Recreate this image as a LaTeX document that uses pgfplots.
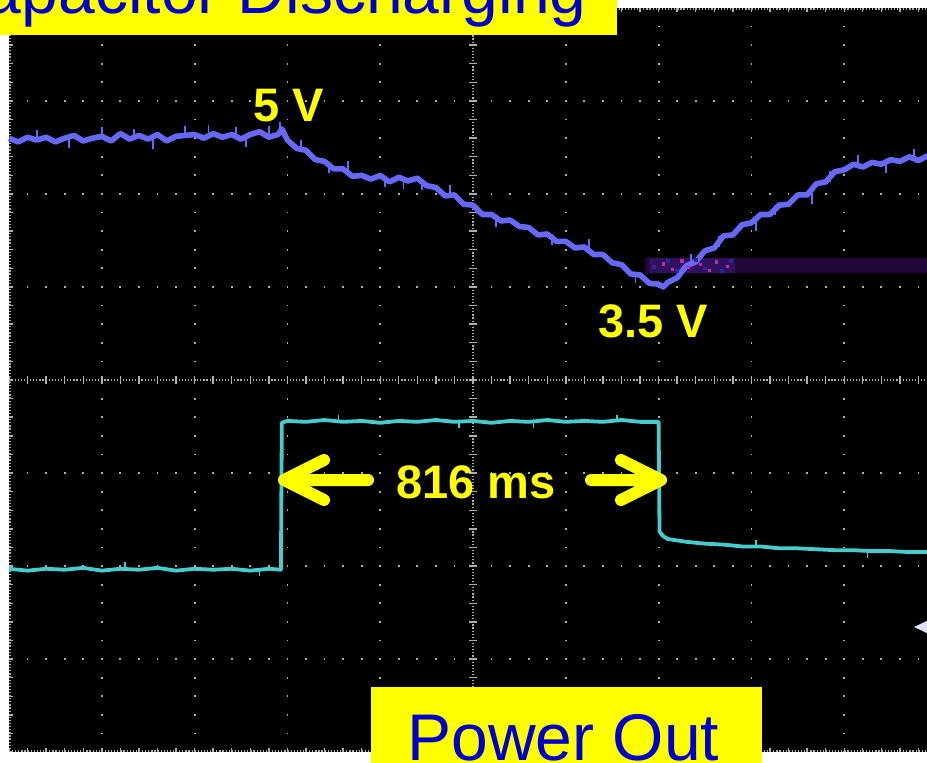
\documentclass[border=0pt]{standalone}
\usepackage{pgfplots}
\pgfplotsset{compat=1.18}
\usepackage{fontspec}
\setmainfont{Liberation Sans}
\definecolor{scopeblue}{RGB}{104,104,246}
\definecolor{scopecyan}{RGB}{70,204,204}
\definecolor{gridgray}{RGB}{175,175,175}
\definecolor{labelyellow}{RGB}{255,255,0}
\definecolor{titleblue}{RGB}{0,0,204}
\definecolor{ghost}{RGB}{32,6,54}
\definecolor{ghostb}{RGB}{50,16,96}
\definecolor{speckm}{RGB}{190,40,170}
\definecolor{specka}{RGB}{40,40,150}

\pgfplotstableread{
x y
0.0 2.60
0.1 2.56
0.2 2.61
0.3 2.58
0.4 2.61
0.5 2.56
0.6 2.60
0.7 2.63
0.8 2.57
0.9 2.60
1.0 2.62
1.1 2.57
1.2 2.65
1.3 2.59
1.4 2.63
1.5 2.59
1.6 2.64
1.7 2.57
1.8 2.62
1.9 2.63
2.0 2.64
2.1 2.60
2.2 2.65
2.3 2.61
2.4 2.64
2.5 2.59
2.6 2.64
2.7 2.67
2.8 2.61
2.9 2.64
2.94 2.70
3.0 2.58
3.1 2.49
3.2 2.47
3.3 2.37
3.4 2.35
3.5 2.27
3.6 2.27
3.7 2.19
3.8 2.20
3.9 2.16
4.0 2.20
4.1 2.13
4.2 2.18
4.3 2.14
4.4 2.17
4.5 2.09
4.6 2.07
4.7 1.98
4.8 1.99
4.9 1.89
5.0 1.88
5.1 1.78
5.2 1.78
5.3 1.71
5.4 1.72
5.5 1.65
5.6 1.64
5.7 1.56
5.8 1.57
5.9 1.49
6.0 1.49
6.1 1.42
6.2 1.43
6.3 1.35
6.4 1.35
6.5 1.26
6.6 1.24
6.7 1.14
6.8 1.13
6.9 1.04
7.0 1.03
7.05 1.00
7.1 1.05
7.2 1.10
7.3 1.23
7.4 1.27
7.5 1.39
7.6 1.42
7.7 1.55
7.8 1.56
7.9 1.67
8.0 1.69
8.1 1.78
8.2 1.78
8.3 1.88
8.4 1.89
8.5 1.99
8.6 1.99
8.7 2.11
8.8 2.13
8.9 2.24
9.0 2.26
9.1 2.32
9.2 2.29
9.3 2.34
9.4 2.32
9.5 2.37
9.6 2.35
9.7 2.40
9.8 2.36
9.9 2.41
10.0 2.39
}\capvolt

\pgfplotstableread{
x y
0.3 2.63
0.65 2.55
1.0 2.66
1.35 2.64
1.55 2.54
1.9 2.67
2.15 2.69
2.45 2.66
2.55 2.56
2.8 2.68
2.92 2.72
3.15 2.53
3.45 2.28
3.65 2.30
4.05 2.13
4.25 2.11
4.45 2.10
4.75 2.04
5.25 1.70
5.85 1.51
6.25 1.46
6.75 1.10
7.35 1.30
7.65 1.49
8.05 1.66
8.25 1.83
8.65 1.95
8.85 2.19
9.15 2.36
9.45 2.28
9.75 2.43
}\capspikes

\pgfplotstableread{
x y
0.0 -2.03
0.2 -2.05
0.4 -2.03
0.6 -2.04
0.8 -2.02
1.0 -2.05
1.2 -2.03
1.4 -2.04
1.6 -2.02
1.8 -2.05
2.0 -2.03
2.2 -2.04
2.4 -2.03
2.6 -2.05
2.8 -2.03
2.93 -2.04
2.94 -0.46
3.0 -0.44
3.2 -0.45
3.4 -0.43
3.6 -0.45
3.8 -0.44
4.0 -0.46
4.2 -0.44
4.4 -0.45
4.6 -0.43
4.8 -0.45
5.0 -0.44
5.2 -0.46
5.4 -0.44
5.6 -0.45
5.8 -0.43
6.0 -0.45
6.2 -0.44
6.4 -0.45
6.6 -0.43
6.8 -0.45
7.0 -0.45
7.01 -1.63
7.05 -1.68
7.1 -1.71
7.3 -1.74
7.5 -1.76
7.7 -1.77
7.9 -1.79
8.1 -1.79
8.3 -1.81
8.5 -1.81
8.7 -1.82
8.9 -1.83
9.1 -1.83
9.3 -1.84
9.5 -1.84
9.7 -1.85
9.9 -1.85
10.0 -1.86
}\powerout

\pgfplotstableread{
x y
1.25 -2.00
2.7 -2.07
3.55 -0.41
4.85 -0.48
5.65 -0.48
6.55 -0.41
8.05 -1.76
9.25 -1.87
}\powerspikes

\begin{document}
\begin{tikzpicture}
\path[use as bounding box] (-4.5pt,-5pt) rectangle (459pt,376pt);
\clip (-4.5pt,-5pt) rectangle (459pt,376pt);
\fill[white] (-10pt,-10pt) rectangle (470pt,380pt);
\fill[black] (0pt,0pt) rectangle (464pt,372pt);
% ---- graticule ----
\foreach \k in {1,2,3,4,6,7,8,9}{
  \draw[gridgray, line width=0.9pt, dash pattern=on 0.9pt off 8.4pt, dash phase=0.45pt]
    ({46.4pt*\k},0pt) -- ({46.4pt*\k},372pt);
}
\foreach \j in {1,2,3,5,6,7}{
  \draw[gridgray, line width=0.9pt, dash pattern=on 0.9pt off 8.38pt, dash phase=0.45pt]
    (0pt,{46.5pt*\j}) -- (464pt,{46.5pt*\j});
}
% centre lines
\draw[gridgray, line width=0.8pt, dash pattern=on 0.6pt off 0.947pt, dash phase=0.3pt] (0pt,186pt) -- (464pt,186pt);
\draw[gridgray, line width=4pt, dash pattern=on 0.7pt off 8.58pt, dash phase=0.35pt] (0pt,186pt) -- (464pt,186pt);
\draw[gridgray, line width=0.8pt, dash pattern=on 0.6pt off 0.95pt, dash phase=0.3pt] (232pt,0pt) -- (232pt,372pt);
\draw[gridgray, line width=4pt, dash pattern=on 0.7pt off 8.6pt, dash phase=0.35pt] (232pt,0pt) -- (232pt,372pt);
% borders
\draw[gridgray, line width=0.8pt, dash pattern=on 0.6pt off 0.95pt] (0.4pt,0pt) -- (0.4pt,372pt);
\draw[gridgray, line width=2pt, dash pattern=on 0.7pt off 8.6pt, dash phase=0.35pt] (1pt,0pt) -- (1pt,372pt);
\draw[gridgray, line width=0.8pt, dash pattern=on 0.6pt off 0.947pt] (0pt,371.6pt) -- (464pt,371.6pt);
\draw[gridgray, line width=2pt, dash pattern=on 0.7pt off 8.58pt, dash phase=0.35pt] (0pt,371pt) -- (464pt,371pt);
\draw[gridgray, line width=0.8pt, dash pattern=on 0.6pt off 0.947pt] (0pt,0.4pt) -- (464pt,0.4pt);
\draw[gridgray, line width=2pt, dash pattern=on 0.7pt off 8.58pt, dash phase=0.35pt] (0pt,1pt) -- (464pt,1pt);

\begin{axis}[at={(0pt,0pt)}, anchor=south west, scale only axis,
  width=464pt, height=372pt, xmin=0, xmax=10, ymin=-4, ymax=4,
  hide axis, clip=false]
  % persistence ghost of channel 1
  \addplot[fill=ghost, draw=none] coordinates {(6.85,1.31) (10.2,1.31) (10.2,1.15) (6.85,1.15)} -- cycle;
  \addplot[fill=ghostb, draw=none] coordinates {(6.9,1.31) (7.82,1.31) (7.82,1.15) (6.9,1.15)} -- cycle;
  \addplot[only marks, mark=square*, mark size=0.6pt, speckm] coordinates {
    (7.05,1.25) (7.15,1.19) (7.25,1.28) (7.32,1.21) (7.45,1.24) (7.55,1.18) (7.62,1.27) (7.74,1.22)};
  \addplot[only marks, mark=square*, mark size=0.7pt, specka] coordinates {
    (6.95,1.22) (7.1,1.28) (7.2,1.17) (7.4,1.29) (7.5,1.2) (7.68,1.17) (7.78,1.28)};
  % channel 1: capacitor voltage
  \addplot[scopeblue, line width=2.8pt, line join=round] table[x=x,y=y] {\capvolt};
  \addplot[only marks, mark=|, mark size=2.6pt, scopeblue, mark options={line width=0.9pt}] table[x=x,y=y] {\capspikes};
  % channel 2: power out
  \addplot[scopecyan, line width=1.9pt, line join=round] table[x=x,y=y] {\powerout};
  \addplot[only marks, mark=|, mark size=1.8pt, scopecyan, mark options={line width=0.8pt}] table[x=x,y=y] {\powerspikes};
\end{axis}

% channel marker on the right edge
\fill[white!88!blue] (452.5pt,62.5pt) -- (462pt,67pt) -- (462pt,58pt) -- cycle;

% annotations
\node[anchor=base west, inner sep=0pt, text=labelyellow, font=\fontsize{23.5}{28}\selectfont\bfseries] at (122pt,315pt) {5 V};
\node[anchor=base west, inner sep=0pt, text=labelyellow, font=\fontsize{23.5}{28}\selectfont\bfseries] at (294.5pt,207pt) {3.5 V};
\node[anchor=base west, inner sep=0pt, text=labelyellow, font=\fontsize{23.5}{28}\selectfont\bfseries] at (193.5pt,127pt) {816 ms};
\draw[labelyellow, line width=6pt, line cap=round, line join=round]
  (179.5pt,136pt) -- (137.5pt,136pt)
  (157.5pt,146pt) -- (137.5pt,136pt) -- (157.5pt,126pt);
\draw[labelyellow, line width=6pt, line cap=round, line join=round]
  (291pt,136pt) -- (326pt,136pt)
  (306pt,146pt) -- (326pt,136pt) -- (306pt,126pt);

% title boxes
\fill[labelyellow] (-10pt,358.5pt) rectangle (304pt,380pt);
\node[anchor=base east, inner sep=0pt, text=titleblue, font=\fontsize{33}{40}\selectfont] at (289pt,369pt) {Capacitor Discharging};
\fill[labelyellow] (181pt,-10pt) rectangle (376.5pt,32.5pt);
\node[anchor=base west, inner sep=0pt, text=titleblue, font=\fontsize{33}{40}\selectfont] at (199pt,-4pt) {Power Out};
\end{tikzpicture}
\end{document}
